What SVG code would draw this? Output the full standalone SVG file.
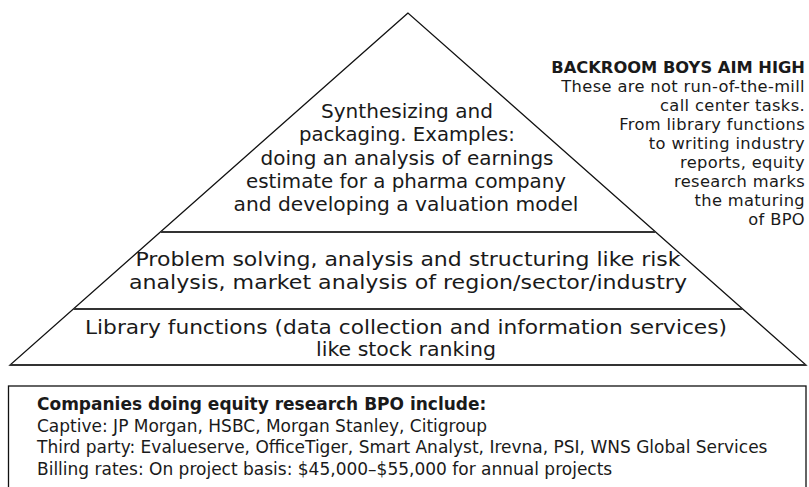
<svg xmlns="http://www.w3.org/2000/svg" width="809" height="487" viewBox="0 0 809 487">
<style>
  .t { font-family: "DejaVu Sans", "Open Sans", "Liberation Sans", sans-serif; fill: #1a1a1a; }
  .pyr { font-size: 19.5px; text-anchor: middle; }
  .note { font-size: 16.3px; text-anchor: end; letter-spacing: 0.35px; }
  .box { font-size: 17px; }
  .b { font-weight: bold; }
  .edge { fill: none; stroke: #111; stroke-width: 1.3; }
  .div { stroke: #333; stroke-width: 1.8; }
</style>
<rect width="809" height="487" fill="#fff"/>
<g id="pyramid-outline">
  <polygon class="edge" points="408,13 10,365 806,365"/>
</g>
<g id="level-top">
  <text class="t pyr" x="407" y="118" textLength="172" lengthAdjust="spacingAndGlyphs">Synthesizing and</text>
  <text class="t pyr" x="407" y="141" textLength="216" lengthAdjust="spacingAndGlyphs">packaging. Examples:</text>
  <text class="t pyr" x="407" y="165" textLength="293" lengthAdjust="spacingAndGlyphs">doing an analysis of earnings</text>
  <text class="t pyr" x="406" y="188" textLength="320" lengthAdjust="spacingAndGlyphs">estimate for a pharma company</text>
  <text class="t pyr" x="406" y="211" textLength="345" lengthAdjust="spacingAndGlyphs">and developing a valuation model</text>
</g>
<g id="level-middle">
  <line class="div" x1="160.8" y1="232" x2="655.2" y2="232"/>
  <text class="t pyr" x="408" y="266" textLength="545" lengthAdjust="spacingAndGlyphs">Problem solving, analysis and structuring like risk</text>
  <text class="t pyr" x="408" y="289" textLength="558" lengthAdjust="spacingAndGlyphs">analysis, market analysis of region/sector/industry</text>
</g>
<g id="level-bottom">
  <line class="div" x1="73.5" y1="309" x2="742.5" y2="309"/>
  <line class="div" x1="10" y1="365" x2="806" y2="365"/>
  <text class="t pyr" x="406" y="334" textLength="642" lengthAdjust="spacingAndGlyphs">Library functions (data collection and information services)</text>
  <text class="t pyr" x="406" y="356" textLength="180" lengthAdjust="spacingAndGlyphs">like stock ranking</text>
</g>
<g id="annotation">
  <text class="t note b" x="805" y="73" style="letter-spacing:0">BACKROOM BOYS AIM HIGH</text>
  <text class="t note" x="805" y="92">These are not run-of-the-mill</text>
  <text class="t note" x="805" y="111">call center tasks.</text>
  <text class="t note" x="805" y="130">From library functions</text>
  <text class="t note" x="805" y="149">to writing industry</text>
  <text class="t note" x="805" y="168">reports, equity</text>
  <text class="t note" x="805" y="187">research marks</text>
  <text class="t note" x="805" y="206">the maturing</text>
  <text class="t note" x="805" y="225">of BPO</text>
</g>
<g id="companies-box">
  <rect class="edge" x="8.5" y="386" width="797.5" height="110"/>
  <text class="t box b" x="37" y="410">Companies doing equity research BPO include:</text>
  <text class="t box" x="37" y="431.5">Captive: JP Morgan, HSBC, Morgan Stanley, Citigroup</text>
  <text class="t box" x="37" y="453">Third party: Evalueserve, OfficeTiger, Smart Analyst, Irevna, PSI, WNS Global Services</text>
  <text class="t box" x="37" y="474.5">Billing rates: On project basis: $45,000–$55,000 for annual projects</text>
</g>
</svg>
